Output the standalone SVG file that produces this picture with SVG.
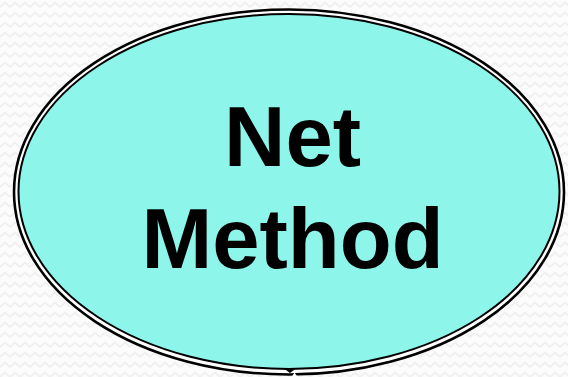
<svg xmlns="http://www.w3.org/2000/svg" width="568" height="377" viewBox="0 0 568 377">
  <defs>
    <!-- faint zigzag backdrop -->
    <pattern id="zigzag" width="10" height="10" patternUnits="userSpaceOnUse">
      <rect width="10" height="10" fill="#fcfcfc"/>
      <polyline points="0,7 5,2.5 10,7" fill="none" stroke="#f0f0f0" stroke-width="2"/>
    </pattern>
    <style>
      .outer { fill: #fff; stroke: #000; stroke-width: 2.6; }
      .inner { fill: #8ef5ea; stroke: #000; stroke-width: 2; }
      .label { font-family: "Liberation Sans", Arial, sans-serif; font-weight: bold; font-size: 85px; fill: #000; text-anchor: middle; }
    </style>
  </defs>

  <rect width="568" height="377" fill="url(#zigzag)"/>

  <g id="net-method">
    <ellipse class="outer" cx="289" cy="192" rx="275" ry="182.5"/>
    <ellipse class="inner" cx="289" cy="191.5" rx="270.5" ry="177.5"/>
    <!-- small joint at the bottom of the double rim -->
    <path d="M285,369.3 L290,373 L295,369.3 Z" fill="#000"/>
    <path d="M291.5,377 L294.5,372.5 L297.5,377 Z" fill="#fff"/>
    <text class="label" x="292.5" y="166">Net</text>
    <text class="label" x="292.5" y="268">Method</text>
  </g>

  <g id="connectors"/>
</svg>
